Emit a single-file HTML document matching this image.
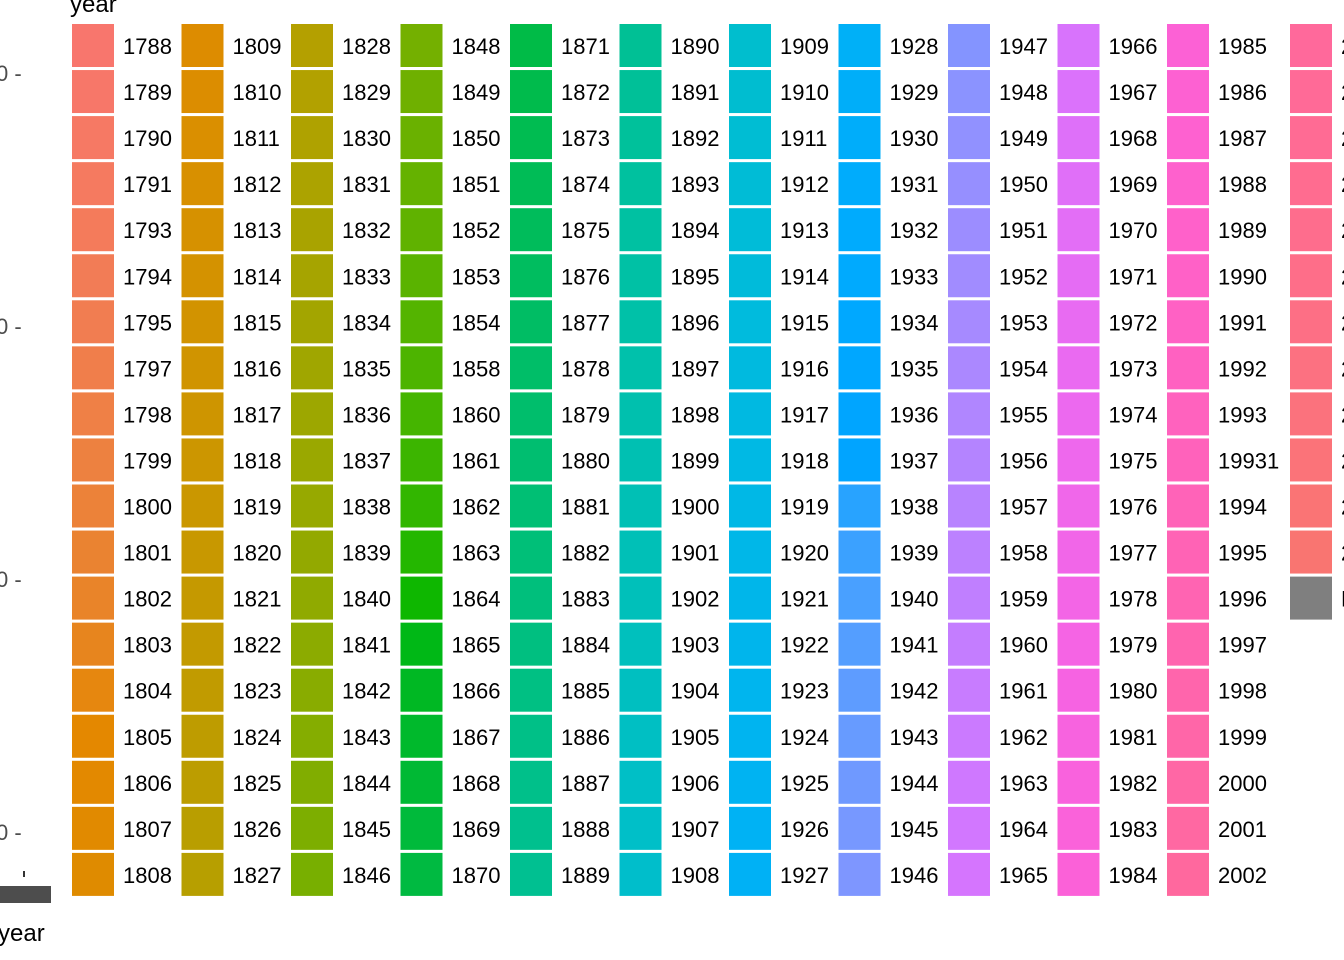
<!DOCTYPE html>
<html><head><meta charset="utf-8"><style>
body{margin:0;background:#fff;width:1344px;height:960px;overflow:hidden;font-family:"Liberation Sans",Arial,sans-serif;}
svg{display:block}
</style></head><body>
<svg id="c" width="1344" height="960" xmlns="http://www.w3.org/2000/svg">
<text x="70" y="12" font-size="24" fill="#000">year</text>
<text x="-2" y="941" font-size="24" fill="#000">year</text>
<line x1="24" y1="871" x2="24" y2="877" stroke="#333" stroke-width="2"/>
<rect x="0" y="886" width="51" height="17" fill="#4d4d4d"/>
<g id="yax"></g>
<g id="leg"></g>
</svg>
<script>
const yTickLabels=["0","0","0","0"];
const yTickPos=[73,326,579,832];
const years=[];
(function(){
 const c1=[1788,1789,1790,1791,1793,1794,1795];for(let y=1797;y<=1808;y++)c1.push(y);
 years.push(...c1);
 for(let y=1809;y<=1846;y++)years.push(y);
 for(let y=1848;y<=1854;y++)years.push(y);years.push(1858);
 for(let y=1860;y<=1993;y++)years.push(y);years.push(19931);
 for(let y=1994;y<=2014;y++)years.push(y);
})();
const ns="http://www.w3.org/2000/svg";
const yax=document.getElementById('yax');
yTickLabels.forEach((l,i)=>{
 const t=document.createElementNS(ns,'text');
 t.setAttribute('x',-4);t.setAttribute('y',yTickPos[i]+8);t.setAttribute('font-size','22');t.setAttribute('fill','#4d4d4d');
 t.textContent=l+" -";
 
 
 yax.appendChild(t);
});
function hcl(h,c,l){
 const hr=h*Math.PI/180,U=c*Math.cos(hr),V=c*Math.sin(hr);
 const Xn=95.047,Yn=100,Zn=108.883;
 const un=4*Xn/(Xn+15*Yn+3*Zn),vn=9*Yn/(Xn+15*Yn+3*Zn);
 const Y=l>8?Yn*Math.pow((l+16)/116,3):Yn*l/903.3;
 const u=U/(13*l)+un,v=V/(13*l)+vn;
 const X=9*Y*u/(4*v),Z=-X/3-5*Y+3*Y/v;
 const f=x=>{x=Math.max(0,Math.min(1,x));return Math.round(255*(x<=0.0031308?12.92*x:1.055*Math.pow(x,1/2.4)-0.055));};
 const x=X/100,y=Y/100,z=Z/100;
 return `rgb(${f(3.2406*x-1.5372*y-0.4986*z)},${f(-0.9689*x+1.8758*y+0.0415*z)},${f(0.0557*x-0.2040*y+1.0570*z)})`;
}
const leg=document.getElementById('leg');
const n=years.length;
const all=years.concat(["NA"]);
const colX=[72,181.5,291,400.5,510,619.5,729,838.5,948,1057.5,1167,1290];
all.forEach((yr,i)=>{
 const col=Math.floor(i/19),row=i%19;
 const x=colX[col],y=24+row*46.05;
 const r=document.createElementNS(ns,'rect');
 r.setAttribute('x',x);r.setAttribute('y',y);r.setAttribute('width',42);r.setAttribute('height',43);
 r.setAttribute('fill',yr==="NA"?"#7f7f7f":hcl(15+360*i/n,100,65));
 
 
 leg.appendChild(r);
 const t=document.createElementNS(ns,'text');
 t.setAttribute('x',x+51);t.setAttribute('y',y+30);t.setAttribute('font-size','22');
 t.textContent=String(yr);
 
 
 leg.appendChild(t);
});
</script>
</body></html>
